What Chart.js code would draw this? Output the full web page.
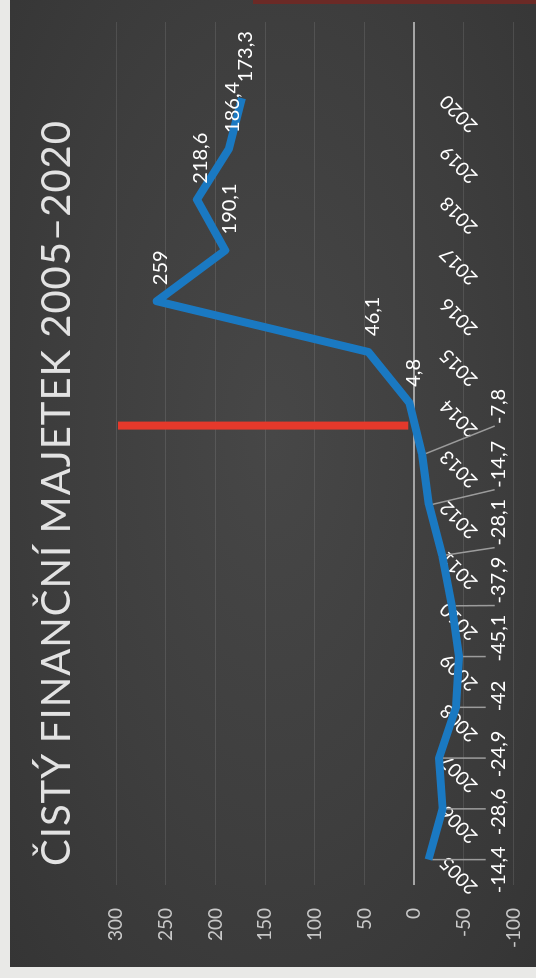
<!DOCTYPE html>
<html lang="cs">
<head>
<meta charset="utf-8">
<title>Čistý finanční majetek 2005–2020</title>
<script src="https://cdn.jsdelivr.net/npm/chart.js@4.4.1/dist/chart.umd.min.js"></script>
<style>
  html, body { margin: 0; padding: 0; }
  body { width: 536px; height: 978px; background: #e9e9e7; overflow: hidden; position: relative; }
  /* the slide is laid out landscape and turned a quarter to the left, like the photo */
  #slide {
    position: absolute; left: 0; top: 0; width: 978px; height: 536px;
    transform-origin: 0 0; transform: translate(0, 978px) rotate(-90deg);
  }
  #panel {
    position: absolute; left: 11px; top: 10px; width: 967px; height: 526px;
    background: radial-gradient(ellipse at 55% 50%, #474747 0%, #3e3e3e 55%, #353535 100%);
  }
  #edge { position: absolute; left: 974px; top: 253px; width: 4px; height: 283px; background: #6b2a26; }
  #title {
    position: absolute; left: 112px; top: 31px; white-space: nowrap;
    font-family: Lato, sans-serif; font-size: 40px; color: #e2e2e2; letter-spacing: 1px;
  }
  #wrap { position: absolute; left: 0; top: 0; width: 978px; height: 548px; }
</style>
</head>
<body>
<div id="slide">
  <div id="panel"></div>
  <div id="edge"></div>
  <div id="wrap"><canvas id="assetChart"></canvas></div>
  <div id="title">ČISTÝ FINANČNÍ MAJETEK 2005–2020</div>
</div>
<script>
// values (mld. Kč)
const years = ["2005", "2006", "2007", "2008", "2009", "2010", "2011", "2012",
               "2013", "2014", "2015", "2016", "2017", "2018", "2019", "2020"];
const netAssets = [-14.4, -28.6, -24.9, -42, -45.1, -37.9, -28.1, -14.7,
                   -7.8, 4.8, 46.1, 259, 190.1, 218.6, 186.4, 173.3];
const valueTicks = [-100, -50, 0, 50, 100, 150, 200, 250, 300];
// red marker line between 2013 and 2014
const markerYear = [2013.55, 2013.55];
const markerValue = [298, 6];

const fmt = v => String(v).replace(".", ",");

// white data labels; negatives are lined up under the axis with leader lines
const valueLabels = {
    id: "valueLabels",
    afterDatasetsDraw(chart) {
        const ctx = chart.ctx;
        const meta = chart.getDatasetMeta(0);
        const xs = chart.scales.x, ys = chart.scales.y;
        ctx.save();
        ctx.font = "20px Lato, sans-serif";
        ctx.textBaseline = "middle";
        let k = 0;
        meta.data.forEach(function (pt, i) {
            const v = netAssets[i];
            const txt = fmt(v);
            if (v >= 0) {
                ctx.fillStyle = "#ffffff";
                ctx.textAlign = "left";
                ctx.fillText(txt, pt.x + 16, pt.y + 4);
                return;
            }
            const lx = xs.getPixelForValue(Number(years[i]) - 0.2 + k * 0.141);
            const ly = ys.getPixelForValue(-85);
            const w = ctx.measureText(txt).width;
            // leader line to the nearest edge of the label
            let ex, ey;
            if (Math.abs(lx - pt.x) > w / 2) {
                ex = lx > pt.x ? lx - w / 2 - 2 : lx + w / 2 + 2;
                ey = ly - 4;
            } else {
                ex = pt.x;
                ey = ly - 13;
            }
            ctx.strokeStyle = "#9c9c9c";
            ctx.lineWidth = 1.5;
            ctx.beginPath();
            ctx.moveTo(pt.x, pt.y + 4);
            ctx.lineTo(ex, ey);
            ctx.stroke();
            ctx.fillStyle = "#ffffff";
            ctx.textAlign = "center";
            ctx.fillText(txt, lx, ly);
            k++;
        });
        ctx.restore();
    }
};

const ctx = document.getElementById("assetChart").getContext("2d");

new Chart(ctx, {
    type: "line",
    data: {
        datasets: [{
            label: "Čistý finanční majetek",
            data: netAssets.map((v, i) => ({ x: Number(years[i]), y: v })),
            borderColor: "#1a79c2",
            borderWidth: 8,
            borderJoinStyle: "round",
            pointRadius: 0,
            tension: 0,
            order: 1
        }, {
            label: "marker",
            data: markerYear.map((x, i) => ({ x: x, y: markerValue[i] })),
            borderColor: "#e5392b",
            borderWidth: 8,
            pointRadius: 0,
            order: 2
        }]
    },
    options: {
        responsive: true,
        maintainAspectRatio: false,
        animation: false,
        layout: { padding: { left: 0, right: 22, top: 116, bottom: 11 } },
        plugins: {
            legend: { display: false },
            tooltip: { enabled: false },
            title: { display: false }
        },
        scales: {
            x: {
                type: "linear",
                min: Number(years[0]) - 0.5,
                max: Number(years[years.length - 1]) + 1.5,
                position: { y: 0 },
                afterBuildTicks: s => { s.ticks = years.map(y => ({ value: Number(y) })); },
                grid: { display: false },
                border: { display: false },
                ticks: {
                    autoSkip: false,
                    minRotation: 45,
                    maxRotation: 45,
                    padding: 13,
                    color: "#ffffff",
                    font: { family: "Lato, sans-serif", size: 19 },
                    callback: v => String(v)
                }
            },
            y: {
                min: valueTicks[0],
                max: valueTicks[valueTicks.length - 1],
                afterBuildTicks: s => { s.ticks = valueTicks.map(v => ({ value: v })); },
                afterFit: s => { s.width = 93; },
                grid: {
                    drawTicks: false,
                    color: c => c.tick.value === 0 ? "#a5a5a5" : "rgba(255,255,255,0.10)",
                    lineWidth: c => c.tick.value === 0 ? 2 : 1
                },
                border: { display: false },
                ticks: {
                    padding: 23,
                    color: "#c9c9c9",
                    font: { family: "Lato, sans-serif", size: 19 }
                }
            }
        }
    },
    plugins: [valueLabels]
});
</script>
</body>
</html>
